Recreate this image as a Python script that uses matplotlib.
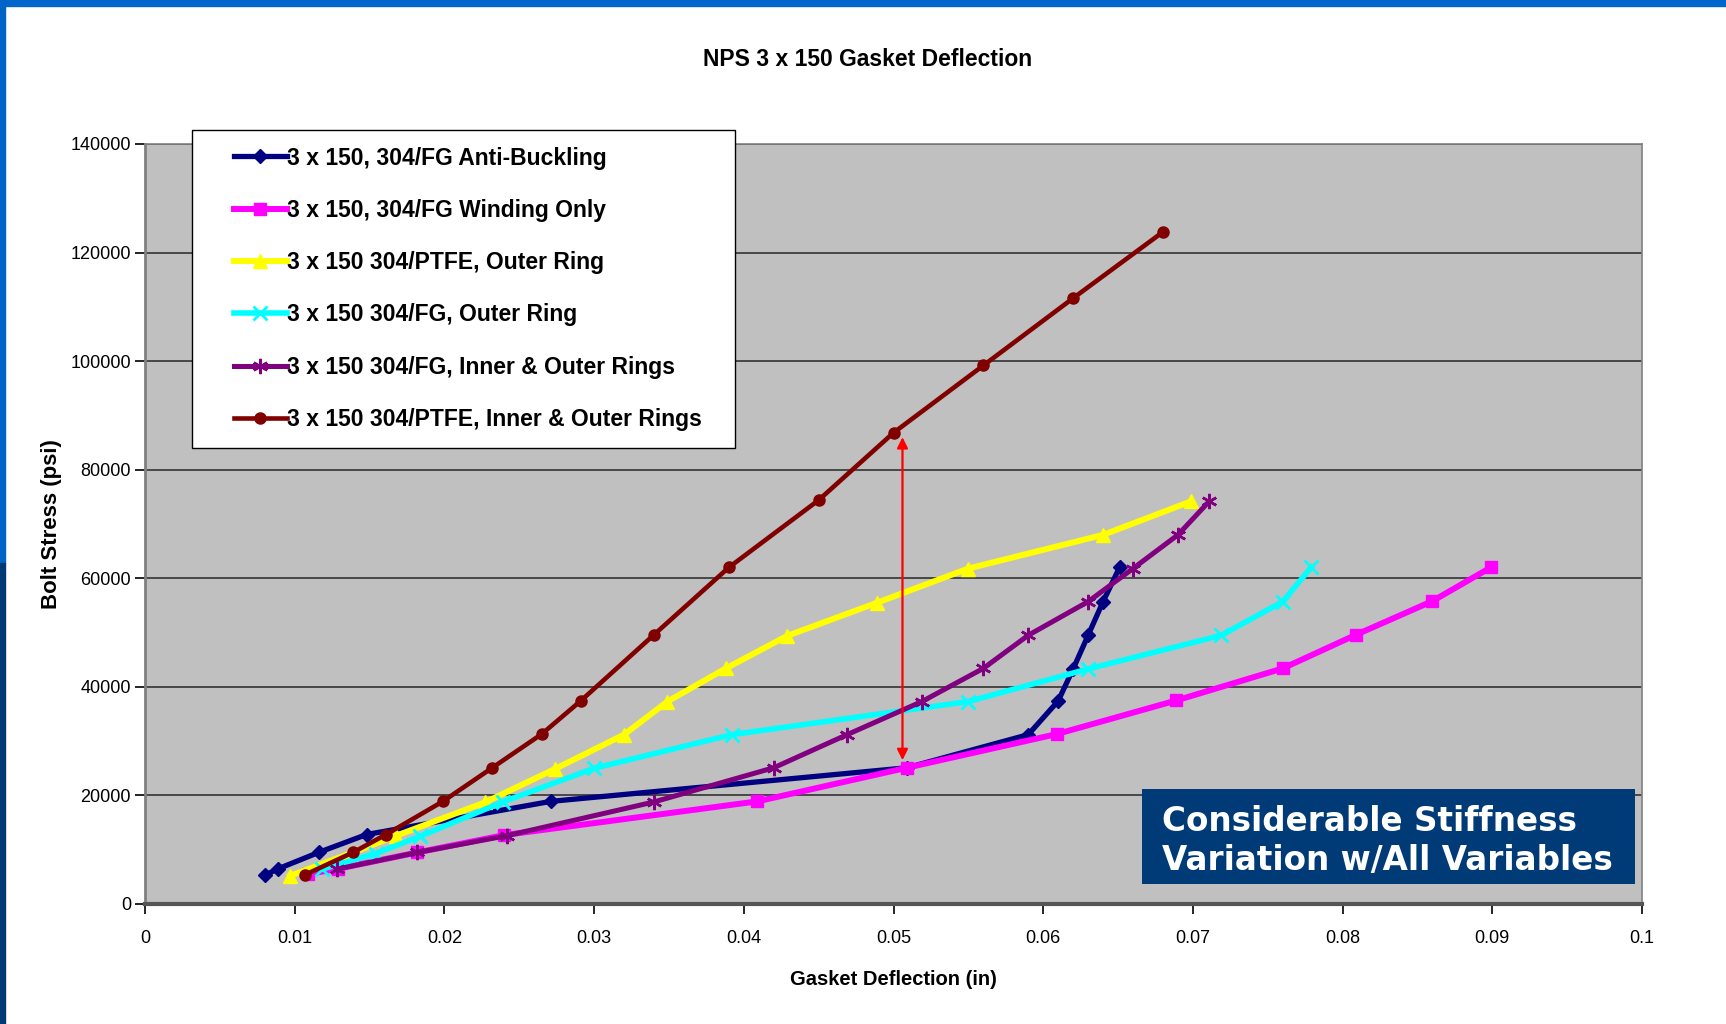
import matplotlib
matplotlib.use("Agg")
import matplotlib.pyplot as plt
from matplotlib.patches import Rectangle
from matplotlib.legend_handler import HandlerLine2D

# data (deflection in, bolt stress psi)
ab_x = [0.0080, 0.0089, 0.0116, 0.0148, 0.0271, 0.0509, 0.0590, 0.0610, 0.0620, 0.0630, 0.0640, 0.0651]
ab_y = [5300, 6500, 9500, 12800, 18900, 25100, 31200, 37400, 43300, 49500, 55700, 62000]

wo_x = [0.0109, 0.0129, 0.0182, 0.0240, 0.0409, 0.0509, 0.0609, 0.0689, 0.0760, 0.0809, 0.0860, 0.0899]
wo_y = [5500, 6500, 9500, 12700, 18900, 25100, 31300, 37500, 43400, 49600, 55800, 62000]

ptfe_or_x = [0.0097, 0.0137, 0.0168, 0.0227, 0.0274, 0.0320, 0.0349, 0.0388, 0.0429, 0.0489, 0.0550, 0.0640, 0.0699]
ptfe_or_y = [5200, 9300, 12600, 18700, 24900, 31200, 37300, 43400, 49400, 55500, 61800, 68000, 74200]

fg_or_x = [0.0118, 0.0154, 0.0184, 0.0239, 0.0300, 0.0392, 0.0550, 0.0630, 0.0719, 0.0760, 0.0779]
fg_or_y = [6400, 9300, 12500, 18800, 25000, 31200, 37300, 43300, 49500, 55700, 62000]

fg_io_x = [0.0128, 0.0182, 0.0242, 0.0340, 0.0420, 0.0469, 0.0519, 0.0560, 0.0590, 0.0630, 0.0660, 0.0690, 0.0711]
fg_io_y = [6400, 9500, 12600, 18800, 25100, 31200, 37300, 43400, 49500, 55700, 61800, 68000, 74200]

ptfe_io_x = [0.0107, 0.0139, 0.0161, 0.0199, 0.0232, 0.0265, 0.0291, 0.0340, 0.0390, 0.0450, 0.0500, 0.0560, 0.0620, 0.0680]
ptfe_io_y = [5400, 9500, 12800, 18900, 25100, 31300, 37400, 49600, 62000, 74400, 86800, 99200, 111600, 123800]

labels = ["3 x 150, 304/FG Anti-Buckling",
          "3 x 150, 304/FG Winding Only",
          "3 x 150 304/PTFE, Outer Ring",
          "3 x 150 304/FG, Outer Ring",
          "3 x 150 304/FG, Inner & Outer Rings",
          "3 x 150 304/PTFE, Inner & Outer Rings"]

x_ticks = [0, 0.01, 0.02, 0.03, 0.04, 0.05, 0.06, 0.07, 0.08, 0.09, 0.1]
y_ticks = [0, 20000, 40000, 60000, 80000, 100000, 120000, 140000]

arrow_x = 0.0506
arrow_lo = 26500
arrow_hi = 86000

note = "Considerable Stiffness\nVariation w/All Variables"

narrow = ["Liberation Sans Narrow", "Liberation Sans", "DejaVu Sans"]
reg = ["Liberation Sans", "DejaVu Sans"]

fig = plt.figure(figsize=(17.26, 10.24), dpi=100)
fig.patch.set_facecolor("white")

# slide frame (blue strips top and left)
fig.add_artist(Rectangle((0, 1 - 6 / 1024), 1, 6 / 1024, transform=fig.transFigure,
                         color="#0066CC", zorder=0))
fig.add_artist(Rectangle((0, 0.45), 5 / 1726, 0.55, transform=fig.transFigure,
                         color="#0063C6", zorder=0))
fig.add_artist(Rectangle((0, 0), 5 / 1726, 0.45, transform=fig.transFigure,
                         color="#003A75", zorder=0))

ax = fig.add_axes([145 / 1726, 1 - 904 / 1024, 1497 / 1726, 760 / 1024])
ax.set_facecolor("#C0C0C0")

ax.plot(ab_x, ab_y, color="#000080", lw=3.8, marker="D", ms=7.5, label=labels[0], zorder=3)
ax.plot(wo_x, wo_y, color="#FF00FF", lw=4.3, marker="s", ms=8.5, label=labels[1], zorder=3)
ax.plot(ptfe_or_x, ptfe_or_y, color="#FFFF00", lw=4.3, marker="^", ms=10, label=labels[2], zorder=3)
ax.plot(fg_or_x, fg_or_y, color="#00FFFF", lw=4.0, marker="x", ms=10, mew=2, label=labels[3], zorder=3)
ax.plot(fg_io_x, fg_io_y, color="#800080", lw=3.6, marker=(6, 2, 0), ms=11, mew=1.8, label=labels[4], zorder=3)
ax.plot(ptfe_io_x, ptfe_io_y, color="#800000", lw=3.3, marker="o", ms=8, label=labels[5], zorder=3)

ax.annotate("", xy=(arrow_x, arrow_lo), xytext=(arrow_x, arrow_hi),
            arrowprops=dict(arrowstyle="<|-|>", color="red", lw=1.6,
                            mutation_scale=16, shrinkA=0, shrinkB=0), zorder=4)

ax.set_xlim(0, 0.1)
ax.set_ylim(0, 140000)
ax.set_xticks(x_ticks)
ax.set_xticklabels(["%g" % v for v in x_ticks], family=reg, fontsize=13)
ax.set_yticks(y_ticks)
ax.set_yticklabels([str(v) for v in y_ticks], family=reg, fontsize=13)
ax.tick_params(axis="both", direction="out", length=7, width=1.2, color="black", pad=3)
ax.tick_params(axis="x", pad=12)
ax.grid(axis="y", color="#333333", lw=1.2, zorder=1)
ax.set_axisbelow(True)
for s in ["top", "right"]:
    ax.spines[s].set_color("#808080")
    ax.spines[s].set_linewidth(1.2)
ax.spines["left"].set_color("#808080")
ax.spines["left"].set_linewidth(2)
ax.spines["bottom"].set_color("#555555")
ax.spines["bottom"].set_linewidth(3)

ax.set_xlabel("Gasket Deflection (in)", family=narrow, weight="bold", fontsize=14.5, labelpad=16)
ax.set_ylabel("Bolt Stress (psi)", family=narrow, weight="bold", fontsize=16, labelpad=6)
fig.text(868 / 1726, 1 - 59 / 1024, "NPS 3 x 150 Gasket Deflection", family=narrow,
         weight="bold", fontsize=16.5, ha="center", va="center")

hm = {h: HandlerLine2D(xpad=1.1) for h in ax.get_lines()}
leg = ax.legend(loc="upper left", bbox_to_anchor=(192 / 1726, 1 - 130 / 1024 - 0.01, 543 / 1726, 0.01),
                bbox_transform=fig.transFigure, mode="expand", borderaxespad=0,
                prop=dict(family=narrow, weight="bold", size=16.5), handlelength=3.42,
                handletextpad=0.0, labelspacing=1.28, borderpad=0.72, fancybox=False,
                framealpha=1, edgecolor="black", numpoints=1, handler_map=hm)
leg.get_frame().set_linewidth(1.0)
leg.set_zorder(6)

# note box
ax.add_patch(Rectangle((0.6657, 0.0263), 0.3293, 0.1247, transform=ax.transAxes,
                       facecolor="#003B77", edgecolor="none", zorder=5))
ax.text(0.6795, 0.0830, note, transform=ax.transAxes, color="white", family=["DejaVu Sans"],
        weight="bold", fontsize=23.5, va="center", ha="left", linespacing=1.2, zorder=6)

fig.savefig("out.png", dpi=100)
